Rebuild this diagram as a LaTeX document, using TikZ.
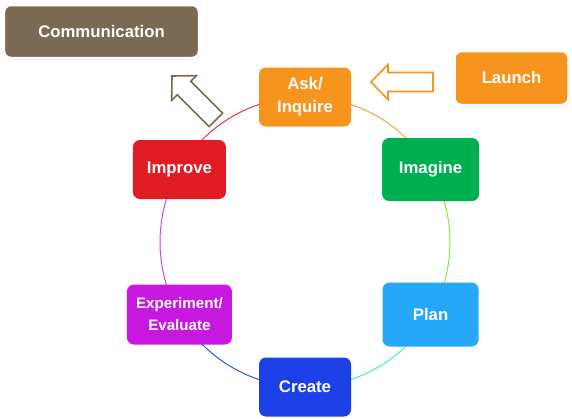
\documentclass[tikz,border=0pt]{standalone}
\usepackage{fontspec}
\setmainfont{Liberation Sans}
\usetikzlibrary{backgrounds,shadows,calc}
\definecolor{commbrown}{HTML}{7B6A53}
\definecolor{askorange}{HTML}{F7941D}
\definecolor{imaginegreen}{HTML}{00B050}
\definecolor{planblue}{HTML}{24A8F7}
\definecolor{createblue}{HTML}{1A40E6}
\definecolor{expmagenta}{HTML}{C818E0}
\definecolor{improvered}{HTML}{E01B22}
\definecolor{arcorange}{HTML}{F5A040}
\definecolor{arcgreen}{HTML}{7CEB40}
\definecolor{arcmint}{HTML}{40EDBF}
\definecolor{arcblue}{HTML}{3355E0}
\definecolor{arcviolet}{HTML}{CC44EE}
\definecolor{arcred}{HTML}{E8334A}
\tikzset{
  stepbox/.style={rounded corners=7bp, text=white, align=center, inner sep=0pt,
    font=\bfseries\fontsize{16.8}{23}\selectfont},
  framedbox/.style={stepbox, draw=white, line width=2.5bp,
    drop shadow={shadow xshift=1bp, shadow yshift=-1.5bp, opacity=0.3, fill=gray}},
  ringarc/.style={line width=1bp},
  blockarrow/.style={line width=1.6bp, fill=white, line join=miter}
}
\begin{document}
\begin{tikzpicture}[x=1bp,y=-1bp]
\useasboundingbox (0,0) rectangle (572,418);
\coordinate (c) at (305,242);
\node[framedbox, fill=commbrown, minimum width=195bp, minimum height=53bp] (comm) at (101.5,31.5) {Communication};
\node[framedbox, fill=askorange, minimum width=114bp, minimum height=54bp] (launch) at (511.5,78) {Launch};
\node[stepbox, fill=askorange, minimum width=92bp, minimum height=59bp] (ask) at ($(c)+(-90:145)$) {Ask/\\Inquire};
\node[stepbox, fill=imaginegreen, minimum width=97bp, minimum height=63bp] (imagine) at ($(c)+(-30:145)$) {Imagine};
\node[stepbox, fill=planblue, minimum width=96bp, minimum height=64bp] (plan) at ($(c)+(30:145)$) {Plan};
\node[stepbox, fill=createblue, minimum width=92bp, minimum height=59bp] (create) at ($(c)+(90:145)$) {Create};
\node[stepbox, fill=expmagenta, minimum width=105bp, minimum height=60bp, font=\bfseries\fontsize{15.2}{22}\selectfont] (experiment) at ($(c)+(150:145)$) {Experiment/\\Evaluate};
\node[stepbox, fill=improvered, minimum width=93bp, minimum height=59bp] (improve) at ($(c)+(210:145)$) {Improve};
\begin{scope}[on background layer]
  \draw[ringarc, arcorange] (ask.center) arc[start angle=-90, end angle=-30, radius=145];
  \draw[ringarc, arcgreen] (imagine.center) arc[start angle=-30, end angle=30, radius=145];
  \draw[ringarc, arcmint] (plan.center) arc[start angle=30, end angle=90, radius=145];
  \draw[ringarc, arcblue] (create.center) arc[start angle=90, end angle=150, radius=145];
  \draw[ringarc, arcviolet] (experiment.center) arc[start angle=150, end angle=210, radius=145];
  \draw[ringarc, arcred] (improve.center) arc[start angle=210, end angle=270, radius=145];
\end{scope}
% Launch -> Ask block arrow
\begin{scope}[shift={(371,82)}]
  \draw[blockarrow, draw=askorange] (0,0) -- (17,-17.5) -- (17,-9.5) -- (62,-9.5) -- (62,9.5) -- (17,9.5) -- (17,17.5) -- cycle;
\end{scope}
% Ask -> Communication block arrow
\begin{scope}[shift={(172,76)}, rotate=-45]
  \draw[blockarrow, draw=commbrown] (0,0) -- (17,-17.5) -- (17,-9.5) -- (62,-9.5) -- (62,9.5) -- (17,9.5) -- (17,17.5) -- cycle;
\end{scope}
\end{tikzpicture}
\end{document}
